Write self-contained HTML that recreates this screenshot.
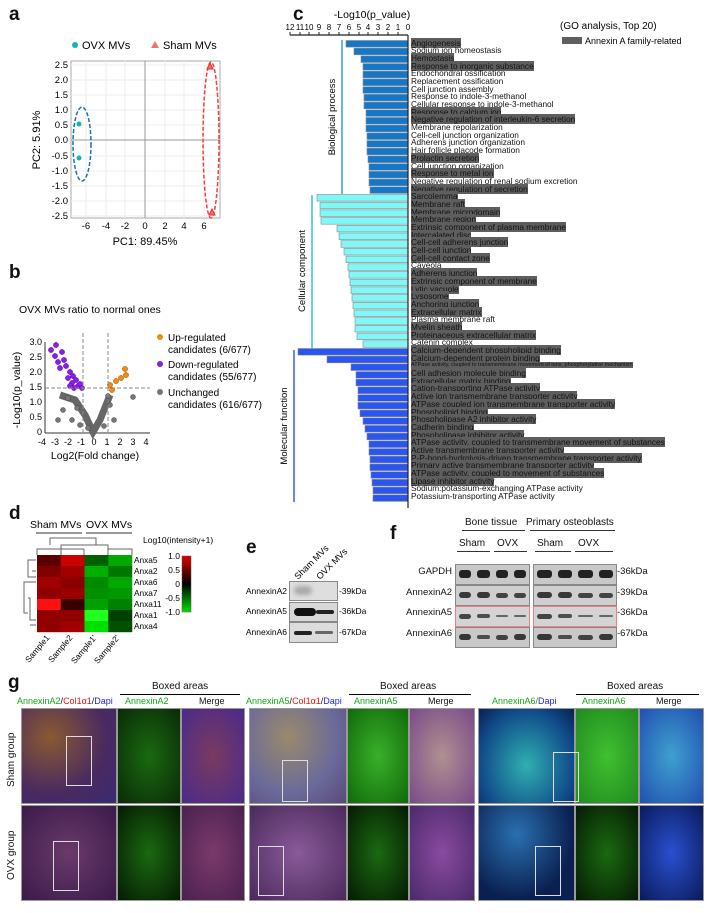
<!DOCTYPE html>
<html><head><meta charset="utf-8">
<style>
body{margin:0;background:#fff;}
#w{position:relative;width:708px;height:913px;overflow:hidden;font-family:"Liberation Sans",sans-serif;color:#111;}
.ab{position:absolute;}
.lab{position:absolute;font-weight:bold;font-size:19px;}
#gl{position:absolute;left:411px;top:39.5px;font-size:8.3px;line-height:7.7px;white-space:nowrap;}
#gl div{height:7.7px;}
#gl span.h{background:#5e5e5e;}
.img{position:absolute;}
</style></head><body><div id="w">
<svg class="ab" style="left:0;top:0" width="708" height="913" font-family="Liberation Sans, sans-serif">
<!-- panel a -->
<circle cx="75" cy="45" r="3" fill="#1ab3b3"/><text x="82" y="49" font-size="11">OVX MVs</text>
<polygon points="155,41 151,48 159,48" fill="#f07070"/><text x="163" y="49" font-size="11">Sham MVs</text>
<rect x="71" y="61" width="149" height="157" fill="#fff" stroke="#aaa"/>
<g stroke="#eee" stroke-width="1">
<line x1="86" y1="61" x2="86" y2="218"/><line x1="106" y1="61" x2="106" y2="218"/><line x1="125" y1="61" x2="125" y2="218"/><line x1="165" y1="61" x2="165" y2="218"/><line x1="184" y1="61" x2="184" y2="218"/><line x1="204" y1="61" x2="204" y2="218"/>
<line x1="71" y1="65" x2="220" y2="65"/><line x1="71" y1="80" x2="220" y2="80"/><line x1="71" y1="95" x2="220" y2="95"/><line x1="71" y1="110" x2="220" y2="110"/><line x1="71" y1="125" x2="220" y2="125"/><line x1="71" y1="156" x2="220" y2="156"/><line x1="71" y1="171" x2="220" y2="171"/><line x1="71" y1="186" x2="220" y2="186"/><line x1="71" y1="201" x2="220" y2="201"/><line x1="71" y1="216" x2="220" y2="216"/>
</g>
<line x1="145" y1="61" x2="145" y2="218" stroke="#999"/><line x1="71" y1="140" x2="220" y2="140" stroke="#999"/>
<g font-size="9.5" text-anchor="end"><text x="68" y="68">2.5</text><text x="68" y="83">2.0</text><text x="68" y="98">1.5</text><text x="68" y="113">1.0</text><text x="68" y="128">0.5</text><text x="68" y="143">0.0</text><text x="68" y="159">-0.5</text><text x="68" y="174">-1.0</text><text x="68" y="189">-1.5</text><text x="68" y="204">-2.0</text><text x="68" y="219">-2.5</text></g>
<g font-size="9.5" text-anchor="middle"><text x="86" y="229">-6</text><text x="106" y="229">-4</text><text x="125" y="229">-2</text><text x="145" y="229">0</text><text x="165" y="229">2</text><text x="184" y="229">4</text><text x="204" y="229">6</text></g>
<text x="145" y="245" font-size="11" text-anchor="middle">PC1: 89.45%</text>
<text x="40" y="140" font-size="11" text-anchor="middle" transform="rotate(-90 40 140)">PC2: 5.91%</text>
<ellipse cx="82" cy="144" rx="9" ry="37" fill="none" stroke="#1a6fc0" stroke-width="1.5" stroke-dasharray="4,2"/>
<circle cx="79" cy="124" r="2.5" fill="#1ab3b3"/><circle cx="79" cy="158" r="2.5" fill="#1ab3b3"/>
<ellipse cx="211" cy="140" rx="8" ry="78" fill="none" stroke="#f04040" stroke-width="1.5" stroke-dasharray="4,2"/>
<polygon points="210,63 207,69 213,69" fill="#f07070" stroke="#e03030"/><polygon points="212,209 209,215 215,215" fill="#f07070" stroke="#e03030"/>
<!-- panel b -->
<text x="19" y="313" font-size="10.5">OVX MVs ratio to normal ones</text>
<line x1="45" y1="342" x2="45" y2="433" stroke="#333"/><line x1="45" y1="433" x2="150" y2="433" stroke="#333"/>
<g font-size="9" text-anchor="end"><text x="42" y="345">3.0</text><text x="42" y="360">2.5</text><text x="42" y="375">2.0</text><text x="42" y="390">1.5</text><text x="42" y="405">1.0</text><text x="42" y="420">0.5</text><text x="42" y="435">0</text></g>
<g font-size="9" text-anchor="middle"><text x="42" y="445">-4</text><text x="55" y="445">-3</text><text x="68" y="445">-2</text><text x="81" y="445">-1</text><text x="94" y="445">0</text><text x="107" y="445">1</text><text x="120" y="445">2</text><text x="133" y="445">3</text><text x="146" y="445">4</text></g>
<text x="95" y="459" font-size="10.5" text-anchor="middle">Log2(Fold change)</text>
<text x="20" y="390" font-size="10.5" text-anchor="middle" transform="rotate(-90 20 390)">-Log10(p_value)</text>
<path d="M60,395 L75,400 L85,415 L93,432 L100,420 L106,405 L110,395" fill="none" stroke="#666" stroke-width="7"/>
<g fill="#777" stroke="#444" stroke-width="0.5">
<circle cx="68" cy="398" r="2.5"/><circle cx="63" cy="410" r="2.5"/><circle cx="58" cy="420" r="2.5"/><circle cx="72" cy="420" r="2.5"/><circle cx="80" cy="425" r="2.5"/><circle cx="110" cy="405" r="2.5"/><circle cx="114" cy="420" r="2.5"/><circle cx="133" cy="397" r="2.5"/><circle cx="104" cy="426" r="2.5"/><circle cx="88" cy="428" r="2.5"/><circle cx="77" cy="408" r="2.5"/><circle cx="108" cy="396" r="2.5"/>
</g>
<g fill="#8a1ee6" stroke="#5a0aa0" stroke-width="0.5">
<circle cx="51" cy="350" r="2.6"/><circle cx="56" cy="345" r="2.6"/><circle cx="55" cy="356" r="2.6"/><circle cx="58" cy="362" r="2.6"/><circle cx="62" cy="352" r="2.6"/><circle cx="64" cy="360" r="2.6"/><circle cx="60" cy="368" r="2.6"/><circle cx="66" cy="366" r="2.6"/><circle cx="70" cy="372" r="2.6"/><circle cx="68" cy="378" r="2.6"/><circle cx="73" cy="376" r="2.6"/><circle cx="72" cy="383" r="2.6"/><circle cx="76" cy="380" r="2.6"/><circle cx="78" cy="386" r="2.6"/><circle cx="74" cy="388" r="2.6"/><circle cx="80" cy="384" r="2.6"/><circle cx="82" cy="388" r="2.6"/><circle cx="70" cy="386" r="2.6"/>
</g>
<g fill="#f08a10" stroke="#a05000" stroke-width="0.5">
<circle cx="110" cy="385" r="2.6"/><circle cx="112" cy="390" r="2.6"/><circle cx="116" cy="381" r="2.6"/><circle cx="121" cy="378" r="2.6"/><circle cx="125" cy="369" r="2.6"/><circle cx="126" cy="375" r="2.6"/>
</g>
<line x1="83" y1="333" x2="83" y2="433" stroke="#888" stroke-dasharray="4,2"/><line x1="108" y1="333" x2="108" y2="433" stroke="#888" stroke-dasharray="4,2"/><line x1="45" y1="388" x2="150" y2="388" stroke="#888" stroke-dasharray="4,2"/>
<circle cx="160" cy="337" r="3" fill="#f08a10"/><text x="168" y="341" font-size="10">Up-regulated</text><text x="168" y="353" font-size="10">candidates (6/677)</text>
<circle cx="160" cy="364" r="3" fill="#8a1ee6"/><text x="168" y="368" font-size="10">Down-regulated</text><text x="168" y="380" font-size="10">candidates (55/677)</text>
<circle cx="160" cy="392" r="3" fill="#777"/><text x="168" y="396" font-size="10">Unchanged</text><text x="168" y="408" font-size="10">candidates (616/677)</text>
<!-- panel c axis -->
<text x="372" y="18" font-size="10.5" text-anchor="middle">-Log10(p_value)</text>
<line x1="290" y1="35" x2="408" y2="35" stroke="#222" stroke-width="1.2"/>
<g font-size="8" text-anchor="middle"><text x="290" y="30">12</text><text x="300" y="30">11</text><text x="309" y="30">10</text><text x="319" y="30">9</text><text x="329" y="30">8</text><text x="339" y="30">7</text><text x="349" y="30">6</text><text x="359" y="30">5</text><text x="368" y="30">4</text><text x="378" y="30">3</text><text x="388" y="30">2</text><text x="398" y="30">1</text><text x="408" y="30">0</text></g>
<g stroke="#222"><line x1="290" y1="32" x2="290" y2="35"/><line x1="300" y1="32" x2="300" y2="35"/><line x1="309" y1="32" x2="309" y2="35"/><line x1="319" y1="32" x2="319" y2="35"/><line x1="329" y1="32" x2="329" y2="35"/><line x1="339" y1="32" x2="339" y2="35"/><line x1="349" y1="32" x2="349" y2="35"/><line x1="359" y1="32" x2="359" y2="35"/><line x1="368" y1="32" x2="368" y2="35"/><line x1="378" y1="32" x2="378" y2="35"/><line x1="388" y1="32" x2="388" y2="35"/><line x1="398" y1="32" x2="398" y2="35"/></g>
<text x="560" y="29" font-size="10">(GO analysis, Top 20)</text>
<rect x="562" y="37" width="20" height="7" fill="#5e5e5e"/><text x="585" y="44" font-size="9">Annexin A family-related</text>
<g id="bars" stroke="#888" stroke-width="0.6"></g>
<line x1="342" y1="40" x2="342" y2="194" stroke="#3a9ad8" stroke-width="1.5"/>
<text x="335" y="117" font-size="9.5" text-anchor="middle" transform="rotate(-90 335 117)">Biological process</text>
<line x1="312" y1="195" x2="312" y2="348" stroke="#30c8c8" stroke-width="1.5"/>
<text x="305" y="271" font-size="9.5" text-anchor="middle" transform="rotate(-90 305 271)">Cellular component</text>
<line x1="294" y1="350" x2="294" y2="502" stroke="#3a5ff0" stroke-width="1.5"/>
<text x="287" y="426" font-size="9.5" text-anchor="middle" transform="rotate(-90 287 426)">Molecular function</text>
<line x1="408" y1="35" x2="408" y2="508" stroke="#222" stroke-width="1.2"/>
<!-- panel d -->
<text x="30" y="528" font-size="10.5">Sham MVs</text><text x="86" y="528" font-size="10.5">OVX MVs</text>
<line x1="36" y1="533" x2="82" y2="533" stroke="#333"/><line x1="86" y1="533" x2="132" y2="533" stroke="#333"/>
<text x="143" y="543" font-size="8.5">Log10(intensity+1)</text>
<g stroke="#666" fill="none"><path d="M61,555 V545 H108 V555 M50,545 V538 H96 V545 M84,555 V549 M37,555 V549 H84 M108,549 H132 V555"/>
<path d="M36,560 H28 V577 H36 M36,571 H32 M36,582 H24 V613 H28 M28,598 H30 V620 H36 M36,625 H30"/></g>
<g id="heat"></g>
<g font-size="8.3"><text x="134" y="563">Anxa5</text><text x="134" y="574">Anxa2</text><text x="134" y="585">Anxa6</text><text x="134" y="596">Anxa7</text><text x="134" y="607">Anxa11</text><text x="134" y="618">Anxa1</text><text x="134" y="629">Anxa4</text></g>
<defs><linearGradient id="cb" x1="0" y1="0" x2="0" y2="1"><stop offset="0" stop-color="#e00000"/><stop offset="0.5" stop-color="#000"/><stop offset="1" stop-color="#00e000"/></linearGradient></defs>
<rect x="182" y="556" width="9" height="56" fill="url(#cb)" stroke="#555" stroke-width="0.5"/>
<g font-size="8.5" text-anchor="end"><text x="180" y="559">1.0</text><text x="180" y="573">0.5</text><text x="180" y="587">0</text><text x="180" y="601">-0.5</text><text x="180" y="615">-1.0</text></g>
<g font-size="8.3" text-anchor="end"><text transform="translate(50,638) rotate(-50)">Sample1</text><text transform="translate(73,638) rotate(-50)">Sample2</text><text transform="translate(97,638) rotate(-50)">Sample1'</text><text transform="translate(120,638) rotate(-50)">Sample2'</text></g>
<!-- panel e labels -->
<text font-size="9" transform="translate(298,580) rotate(-45)">Sham MVs</text>
<text font-size="9" transform="translate(320,580) rotate(-45)">OVX MVs</text>
<g font-size="8.5" text-anchor="end"><text x="287" y="594">AnnexinA2</text><text x="287" y="614">AnnexinA5</text><text x="287" y="635">AnnexinA6</text></g>
<g font-size="8.5"><text x="339" y="594">-39kDa</text><text x="339" y="614">-36kDa</text><text x="339" y="635">-67kDa</text></g>
</svg>
<div class="ab" style="left:289px;top:581px;width:47px;height:18px;background:#dedede;border:1px solid #888"><div class="ab" style="left:4px;top:4px;width:18px;height:9px;background:#aaa;border-radius:5px;filter:blur(2px)"></div></div>
<div class="ab" style="left:289px;top:602px;width:47px;height:18px;background:#d8d8d8;border:1px solid #888"><div class="ab" style="left:4px;top:5px;width:22px;height:8px;background:#111;border-radius:4px"></div><div class="ab" style="left:26px;top:7px;width:18px;height:4px;background:#222;border-radius:3px"></div></div>
<div class="ab" style="left:289px;top:622px;width:47px;height:19px;background:#dcdcdc;border:1px solid #888"><div class="ab" style="left:4px;top:8px;width:18px;height:4px;background:#222;border-radius:3px"></div><div class="ab" style="left:25px;top:8px;width:18px;height:3px;background:#666;border-radius:3px"></div></div>

<!-- panel f -->
<div class="ab" style="left:465px;top:517px;font-size:10px">Bone tissue</div>
<div class="ab" style="left:526px;top:517px;font-size:10px">Primary osteoblasts</div>
<div class="ab" style="left:462px;top:530px;width:63px;border-top:1px solid #333"></div>
<div class="ab" style="left:530px;top:530px;width:85px;border-top:1px solid #333"></div>
<div class="ab" style="left:459px;top:538px;font-size:10px">Sham</div><div class="ab" style="left:497px;top:538px;font-size:10px">OVX</div>
<div class="ab" style="left:537px;top:538px;font-size:10px">Sham</div><div class="ab" style="left:578px;top:538px;font-size:10px">OVX</div>
<div class="ab" style="left:457px;top:551px;width:33px;border-top:1px solid #333"></div><div class="ab" style="left:494px;top:551px;width:33px;border-top:1px solid #333"></div>
<div class="ab" style="left:535px;top:551px;width:36px;border-top:1px solid #333"></div><div class="ab" style="left:575px;top:551px;width:38px;border-top:1px solid #333"></div>
<div class="ab" style="left:390px;top:562px;width:62px;font-size:9.5px;text-align:right;line-height:20.5px">GAPDH<br>AnnexinA2<br>AnnexinA5<br>AnnexinA6</div>
<div class="ab" style="left:617px;top:562px;font-size:9.5px;line-height:20.5px">-36kDa<br>-39kDa<br>-36kDa<br>-67kDa</div>
<div id="fb"></div>

<div class="lab" style="left:9px;top:4px">a</div>
<div class="lab" style="left:9px;top:262px">b</div>
<div class="lab" style="left:293px;top:4px">c</div>
<div class="lab" style="left:9px;top:503px">d</div>
<div class="lab" style="left:246px;top:537px">e</div>
<div class="lab" style="left:390px;top:523px">f</div>
<div class="lab" style="left:8px;top:672px">g</div>

<div id="gl">
<div><span class="h">Angiogenesis</span></div><div>Sodium ion homeostasis</div><div><span class="h">Hemostasis</span></div><div><span class="h">Response to inorganic substance</span></div><div>Endochondral ossification</div><div>Replacement ossification</div><div>Cell junction assembly</div><div>Response to indole-3-methanol</div><div>Cellular response to indole-3-methanol</div><div><span class="h">Response to calcium ion</span></div><div><span class="h">Negative regulation of interleukin-6 secretion</span></div><div>Membrane repolarization</div><div>Cell-cell junction organization</div><div>Adherens junction organization</div><div>Hair follicle placode formation</div><div><span class="h">Prolactin secretion</span></div><div>Cell junction organization</div><div><span class="h">Response to metal ion</span></div><div>Negative regulation of renal sodium excretion</div><div><span class="h">Negative regulation of secretion</span></div>
<div><span class="h">Sarcolemma</span></div><div><span class="h">Membrane raft</span></div><div><span class="h">Membrane microdomain</span></div><div><span class="h">Membrane region</span></div><div><span class="h">Extrinsic component of plasma membrane</span></div><div><span class="h">Intercalated disc</span></div><div><span class="h">Cell-cell adherens junction</span></div><div><span class="h">Cell-cell junction</span></div><div><span class="h">Cell-cell contact zone</span></div><div>Caveola</div><div><span class="h">Adherens junction</span></div><div><span class="h">Extrinsic component of membrane</span></div><div><span class="h">Lytic vacuole</span></div><div><span class="h">Lysosome</span></div><div><span class="h">Anchoring junction</span></div><div><span class="h">Extracellular matrix</span></div><div>Plasma membrane raft</div><div><span class="h">Myelin sheath</span></div><div><span class="h">Proteinaceous extracellular matrix</span></div><div>Catenin complex</div>
<div><span class="h">Calcium-dependent phospholipid binding</span></div><div><span class="h">Calcium-dependent protein binding</span></div><div style="font-size:5.5px"><span class="h">ATPase activity, coupled to transmembrane movement of ions, phosphorylative mechanism</span></div><div><span class="h">Cell adhesion molecule binding</span></div><div><span class="h">Extracellular matrix binding</span></div><div><span class="h">Cation-transporting ATPase activity</span></div><div><span class="h">Active ion transmembrane transporter activity</span></div><div><span class="h">ATPase coupled ion transmembrane transporter activity</span></div><div><span class="h">Phospholipid binding</span></div><div><span class="h">Phospholipase A2 inhibitor activity</span></div><div><span class="h">Cadherin binding</span></div><div><span class="h">Phospholipase inhibitor activity</span></div><div><span class="h">ATPase activity, coupled to transmembrane movement of substances</span></div><div><span class="h">Active transmembrane transporter activity</span></div><div><span class="h">P-P-bond-hydrolysis-driven transmembrane transporter activity</span></div><div><span class="h">Primary active transmembrane transporter activity</span></div><div><span class="h">ATPase activity, coupled to movement of substances</span></div><div><span class="h">Lipase inhibitor activity</span></div><div>Sodium:potassium-exchanging ATPase activity</div><div>Potassium-transporting ATPase activity</div>
</div>

<!-- panel g -->
<div class="ab" style="left:17px;top:696px;font-size:9px;white-space:nowrap"><span style="color:#1a1">AnnexinA2</span>/<span style="color:#e11">Col1α1</span>/<span style="color:#22e">Dapi</span></div>
<div class="ab" style="left:125px;top:696px;font-size:9px;color:#1a1">AnnexinA2</div>
<div class="ab" style="left:199px;top:696px;font-size:9px">Merge</div>
<div class="ab" style="left:246px;top:696px;font-size:9px;white-space:nowrap"><span style="color:#1a1">AnnexinA5</span>/<span style="color:#e11">Col1α1</span>/<span style="color:#22e">Dapi</span></div>
<div class="ab" style="left:354px;top:696px;font-size:9px;color:#1a1">AnnexinA5</div>
<div class="ab" style="left:428px;top:696px;font-size:9px">Merge</div>
<div class="ab" style="left:492px;top:696px;font-size:9px;color:#1a1">AnnexinA6/<span style="color:#22e">Dapi</span></div>
<div class="ab" style="left:582px;top:696px;font-size:9px;color:#1a1">AnnexinA6</div>
<div class="ab" style="left:656px;top:696px;font-size:9px">Merge</div>
<div class="ab" style="left:152px;top:681px;font-size:10px">Boxed areas</div><div class="ab" style="left:120px;top:694px;width:120px;border-top:1px solid #000"></div>
<div class="ab" style="left:380px;top:681px;font-size:10px">Boxed areas</div><div class="ab" style="left:349px;top:694px;width:122px;border-top:1px solid #000"></div>
<div class="ab" style="left:607px;top:681px;font-size:10px">Boxed areas</div><div class="ab" style="left:576px;top:694px;width:123px;border-top:1px solid #000"></div>
<div class="ab" style="left:6px;top:787px;font-size:10px;transform:rotate(-90deg);transform-origin:left top;white-space:nowrap">Sham group</div>
<div class="ab" style="left:6px;top:880px;font-size:10px;transform:rotate(-90deg);transform-origin:left top;white-space:nowrap">OVX group</div>
<div id="gi"></div>
</div>
<script>
var NS="http://www.w3.org/2000/svg";
var bp=[346,354,361,363,363,363,363,364,364,366,366,366,367,367,367,368,369,369,369,370];
var cc=[317,320,320,321,337,339,341,344,346,348,349,350,351,352,353,354,355,355,357,363];
var mf=[298,327,351,356,356,358,358,358,360,363,365,367,369,369,370,370,371,372,373,373];
var g=document.getElementById('bars');
function bars(a,off,col){a.forEach(function(l,i){var r=document.createElementNS(NS,'rect');r.setAttribute('x',l);r.setAttribute('y',40+(off+i)*7.7+0.5);r.setAttribute('width',408-l);r.setAttribute('height',6.6);r.setAttribute('fill',col);g.appendChild(r);});}
bars(bp,0,'#1577c8');bars(cc,20,'#80f8f8');bars(mf,40,'#2a55ee');
var hm=[["#5a0000","#c80000","#006000","#00a800"],["#800000","#a00000","#00b000","#007800"],["#a00000","#8a0000","#008a00","#00a800"],["#900000","#9a0000","#009000","#009800"],["#ff1010","#3a0000","#00a000","#008000"],["#900000","#900000","#20ff20","#004000"],["#900000","#a00000","#00e000","#005000"]];
var h=document.getElementById('heat');
hm.forEach(function(row,i){row.forEach(function(c,j){var r=document.createElementNS(NS,'rect');r.setAttribute('x',37+j*23.75);r.setAttribute('y',555+i*11);r.setAttribute('width',24);r.setAttribute('height',11.2);r.setAttribute('fill',c);h.appendChild(r);});});
var fb=document.getElementById('fb'),s='';
var rows=[[564,'#c8c8c8',[8,8,8,8],'#888'],[585,'#cfcfcf',[6,6,5,5],'#888'],[606,'#d4d4d4',[5,4,2,2],'#f08080'],[627,'#c8c8c8',[6,4,5,6],'#888']];
rows.forEach(function(r){[[455,73],[533,82]].forEach(function(b,k){s+='<div class="ab" style="left:'+b[0]+'px;top:'+r[0]+'px;width:'+b[1]+'px;height:19px;background:'+r[1]+';border:1px solid '+r[3]+'">';for(var q=0;q<4;q++){var t=r[2][q];s+='<div class="ab" style="left:'+(3+q*b[1]/4)+'px;top:'+(9-t/2)+'px;width:'+(b[1]/4-6)+'px;height:'+t+'px;background:#222;opacity:'+(0.5+t/16)+';border-radius:3px"></div>';}s+='</div>';});});
fb.innerHTML=s;
var cols=[[21,94],[117,62],[181,62],[249,96],[347,60],[409,64],[478,95],[575,62],[639,63]];
var fills=[
["radial-gradient(ellipse at 30% 30%,#8a5a30,#4a2a60 60%,#3a2a70)","radial-gradient(#1a6a10,#0a2a08)","radial-gradient(#7a3a60,#4a2a8a)","radial-gradient(ellipse at 40% 30%,#9a8a6a,#6a6a9a 60%,#5a4a7a)","radial-gradient(#3ab02a,#106a0a)","radial-gradient(#b09090,#7a4a8a)","radial-gradient(ellipse at 50% 60%,#30b0b0,#104a8a 70%,#0a2050)","radial-gradient(#40c030,#208a20)","radial-gradient(#40a0d0,#2050b0)"],
["radial-gradient(#6a3a6a,#3a1a4a)","radial-gradient(#1a6a10,#061a04)","radial-gradient(#7a3a6a,#4a2050)","radial-gradient(#8a5a9a,#4a2a5a)","radial-gradient(#1a6a10,#061a04)","radial-gradient(#8a4aa0,#4a2a6a)","radial-gradient(ellipse at 40% 30%,#2a70b0,#0a2050 70%)","radial-gradient(#1a6a10,#061a04)","radial-gradient(#2a50d0,#0a1a5a)"]];
s='';[708,805].forEach(function(y,ri){cols.forEach(function(c,ci){s+='<div class="img" style="left:'+c[0]+'px;top:'+y+'px;width:'+c[1]+'px;height:94px;background:'+fills[ri][ci]+';border:1px solid #999"></div>';});});
s+='<div class="ab" style="left:66px;top:736px;width:24px;height:48px;border:1px solid #ddd"></div>';
s+='<div class="ab" style="left:53px;top:841px;width:24px;height:48px;border:1px solid #ddd"></div>';
s+='<div class="ab" style="left:282px;top:760px;width:24px;height:40px;border:1px solid #ddd"></div>';
s+='<div class="ab" style="left:258px;top:846px;width:24px;height:48px;border:1px solid #ddd"></div>';
s+='<div class="ab" style="left:553px;top:752px;width:24px;height:48px;border:1px solid #ddd"></div>';
s+='<div class="ab" style="left:535px;top:846px;width:24px;height:48px;border:1px solid #ddd"></div>';
document.getElementById('gi').innerHTML=s;
</script>
</body></html>
